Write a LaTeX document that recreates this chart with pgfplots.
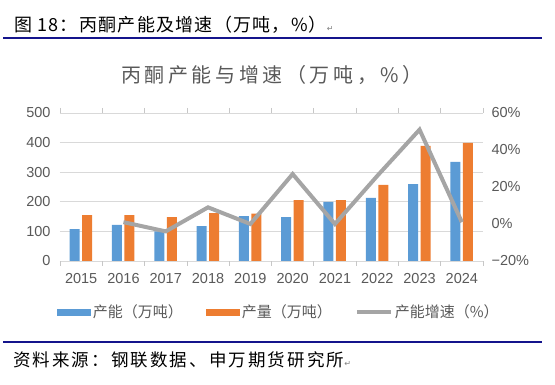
\documentclass[border=0pt]{standalone}
\usepackage{pgfplots}
\pgfplotsset{compat=1.18}
\usepackage{fontspec}
\setmainfont{Liberation Sans}
\newfontfamily\cjk{Noto Sans CJK SC}
\newfontfamily\cjkhead[LetterSpace=7]{Noto Sans CJK SC}
\newfontfamily\cjktitle[LetterSpace=18]{Noto Sans CJK SC}
\newfontfamily\cjksrc[LetterSpace=12]{Noto Sans CJK SC}
\newfontfamily\djv{DejaVu Sans}
\definecolor{cblue}{RGB}{91,155,213}
\definecolor{corange}{RGB}{237,125,49}
\definecolor{cgray}{RGB}{165,165,165}
\definecolor{ctext}{RGB}{89,89,89}
\definecolor{cgrid}{RGB}{217,217,217}
\definecolor{navy}{RGB}{20,20,140}
\begin{document}
\begin{tikzpicture}[x=1pt,y=1pt]
\useasboundingbox (0,0) rectangle (555,385);
% header
\node[anchor=west,inner sep=0,font=\cjkhead\fontsize{18}{20}\selectfont] at (14,360) {图 18：丙酮产能及增速（万吨，\%）{\djv\fontsize{8}{9}\selectfont\color{gray}↵}};
\draw[navy,line width=2pt] (3,347) -- (542,347);
\draw[navy,line width=2pt] (3,43) -- (542,43);
\node[anchor=west,inner sep=0,font=\cjksrc\fontsize{17.5}{20}\selectfont] at (13,25) {资料来源：钢联数据、申万期货研究所{\djv\fontsize{8}{9}\selectfont\color{gray}↵}};
\node[font=\cjktitle\fontsize{20}{22}\selectfont,text=ctext] at (272,310) {丙酮产能与增速（万吨，\%）};
\begin{axis}[
  at={(60pt,124pt)}, anchor=south west,
  width=423pt, height=148pt, scale only axis,
  xmin=-0.5, xmax=9.5, ymin=0, ymax=500,
  ytick={0,100,...,500},
  xtick={0,...,9},
  xticklabels={2015,2016,2017,2018,2019,2020,2021,2022,2023,2024},
  minor xtick={-0.5,0.5,...,9.5},
  major tick length=0pt,
  minor tick length=5pt,
  xtick align=outside,
  minor tick style={cgrid!80!gray, line width=0.8pt},
  axis line style={draw=none},
  ymajorgrids, grid style={cgrid, line width=0.8pt},
  /pgf/number format/assume math mode=true,
  ticklabel style={font=\fontsize{14.5}{16}\selectfont, text=ctext},
  yticklabel style={xshift=-6pt},
  xticklabel style={yshift=-9pt},
  ybar, bar width=10pt,
  legend columns=3,
  legend style={at={(-0.015,-0.345)}, anchor=west, draw=none, fill=none,
    font=\cjk\fontsize{15}{17}\selectfont, text=ctext,
    /tikz/every even column/.append style={column sep=21pt}},
]
\addplot[fill=cblue, draw=none, bar shift=-6.5pt,
  legend image code/.code={\fill[cblue] (0pt,-3.5pt) rectangle (34pt,3.5pt);}]
  coordinates {(0,108) (1,122) (2,100) (3,118) (4,152) (5,148) (6,200) (7,213) (8,260) (9,335)};
\addlegendentry{产能（万吨）}
\addplot[fill=corange, draw=none, bar shift=6pt,
  legend image code/.code={\fill[corange] (0pt,-3.5pt) rectangle (34pt,3.5pt);}]
  coordinates {(0,155) (1,155) (2,148) (3,162) (4,160) (5,206) (6,206) (7,257) (8,389) (9,399)};
\addlegendentry{产量（万吨）}
\addlegendimage{legend image code/.code={\draw[cgray,line width=4pt] (0pt,0pt) -- (34pt,0pt);}}
\addlegendentry{产能增速（\%）}
\end{axis}
\begin{axis}[
  at={(60pt,124pt)}, anchor=south west,
  width=423pt, height=148pt, scale only axis,
  xmin=-0.5, xmax=9.5, ymin=-20, ymax=60,
  xtick=\empty,
  ytick={-20,0,20,40,60},
  yticklabels={−20\%,0\%,20\%,40\%,60\%},
  yticklabel pos=right,
  major tick length=0pt,
  axis line style={draw=none},
  ticklabel style={font=\fontsize{14.5}{16}\selectfont, text=ctext},
  yticklabel style={anchor=west, xshift=5pt},
]
\addplot[cgray, line width=4pt, line join=miter]
  coordinates {(1,1) (2,-4) (3,9) (4,0) (5,27) (6,0) (7,26) (8,51) (9,1)};
\end{axis}
\end{tikzpicture}
\end{document}
